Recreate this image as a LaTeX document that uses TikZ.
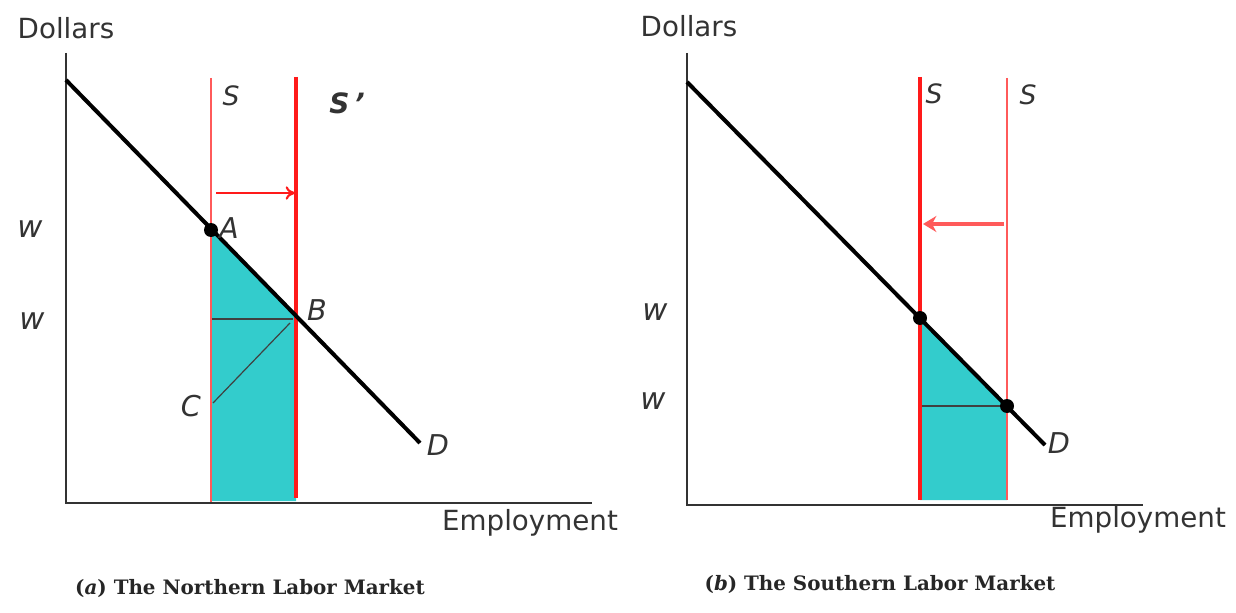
\documentclass[tikz,border=0pt]{standalone}
\usepackage{fontspec}
\setmainfont{DejaVu Serif}
\newfontfamily\labfont{DejaVu Sans}
\usetikzlibrary{arrows.meta}
\definecolor{teal1}{HTML}{33CCCC}
\definecolor{sred}{HTML}{FF1A1A}
\definecolor{lred}{HTML}{FF5A5A}
\definecolor{axisgray}{HTML}{333333}
\tikzset{
  axisline/.style={draw=axisgray, line width=1.9pt},
  demand/.style={draw=black, line width=3pt},
  thinS/.style={draw=lred, line width=1.4pt},
  thickS/.style={draw=sred, line width=3.1pt},
  guide/.style={draw=black!75, line width=0.9pt},
  area/.style={fill=teal1, draw=none},
  dotpt/.style={circle, fill=black, inner sep=0pt, minimum size=10.5pt},
  axlab/.style={font=\labfont\fontsize{20.8}{24}\selectfont, text=black!80, inner sep=0pt},
  ptlab/.style={font=\labfont\itshape\fontsize{21.5}{24}\selectfont, text=black!80, inner sep=0pt},
  slab/.style={font=\labfont\itshape\fontsize{20}{22}\selectfont, text=black!80, inner sep=0pt},
  wlab/.style={font=\labfont\itshape\fontsize{23}{26}\selectfont, text=black!80, inner sep=0pt},
  caption/.style={font=\bfseries\fontsize{14.9}{18}\selectfont, text=black!85, inner sep=0pt},
}
\begin{document}
\begin{tikzpicture}[x=0.75pt, y=-0.75pt]
\useasboundingbox (0,0) rectangle (1236,613);
% ================= left panel =================
\coordinate (Ltop) at (66,53);
\coordinate (Lorig) at (66,503);
\coordinate (Lxend) at (592,503);
\coordinate (LDs) at (66,80);
\coordinate (LDe) at (420,443);
\coordinate (LA) at (211,230);
\coordinate (LB) at (296,318);
\coordinate (LSt) at (211,78);
\coordinate (LSb) at (211,503);
\coordinate (LS2t) at (296,77);
\coordinate (LS2b) at (296,498);
\coordinate (LAb) at (211,501);
\coordinate (LBb) at (296,501);
\coordinate (LH1) at (211,319);
\coordinate (LH2) at (293,319);
\coordinate (LC) at (213,403);
\coordinate (LCe) at (290,323);
\coordinate (LArs) at (216,193);
\coordinate (LAre) at (295,193);
\path[area] (LA) -- (LB) -- (LBb) -- (LAb) -- cycle;
\draw[guide] (LH1) -- (LH2);
\draw[guide] (LC) -- (LCe);
\draw[thinS] (LSt) -- (LSb);
\draw[thickS] (LS2t) -- (LS2b);
\draw[axisline] (Ltop) -- (Lorig) -- (Lxend);
\draw[demand] (LDs) -- (LDe);
\draw[draw=sred, line width=1.6pt, -{To[length=7pt,width=10pt]}] (LArs) -- (LAre);
\node[dotpt] (dA) at (LA) {};
\node[axlab] (ldol) at (66,28) {Dollars};
\node[axlab] (lemp) at (530,523) {Employment};
\node[slab] (lS) at (231,96) {S};
\node[font=\labfont\bfseries\itshape\fontsize{21}{24}\selectfont, text=black!80, inner sep=0pt] (lS2) at (347,103) {S\,’};
\node[ptlab] (lAl) at (229,228) {A};
\node[ptlab] (lBl) at (317,310) {B};
\node[ptlab] (lCl) at (191,406) {C};
\node[ptlab] (lDl) at (438,445) {D};
\node[wlab] (lw1) at (30,229) {w};
\node[wlab] (lw2) at (32,321) {w};
\node[caption] (capa) at (250,588) {(\textit{a}) The Northern Labor Market};
% ================= right panel =================
\coordinate (Rtop) at (687,53);
\coordinate (Rorig) at (687,505);
\coordinate (Rxend) at (1143,505);
\coordinate (RDs) at (687,82);
\coordinate (RDe) at (1045,445);
\coordinate (RP1) at (920,318);
\coordinate (RP2) at (1007,406);
\coordinate (RSt) at (920,77);
\coordinate (RSb) at (920,500);
\coordinate (RS2t) at (1007,78);
\coordinate (RS2b) at (1007,500);
\coordinate (RH1) at (918,406);
\coordinate (RArs) at (1004,224);
\coordinate (RAre) at (923,224);
\path[area] (RP1) -- (RP2) -- (RS2b) -- (RSb) -- cycle;
\draw[guide] (RH1) -- (RP2);
\draw[thickS] (RSt) -- (RSb);
\draw[thinS] (RS2t) -- (RS2b);
\draw[axisline] (Rtop) -- (Rorig) -- (Rxend);
\draw[demand] (RDs) -- (RDe);
\draw[draw=lred, line width=2.8pt, -{Stealth[length=10pt,width=12pt]}] (RArs) -- (RAre);
\node[dotpt] (dR1) at (RP1) {};
\node[dotpt] (dR2) at (RP2) {};
\node[axlab] (rdol) at (689,26) {Dollars};
\node[axlab] (remp) at (1138,520) {Employment};
\node[slab] (rS1) at (934,94) {S};
\node[slab] (rS2) at (1028,95) {S};
\node[ptlab] (rDl) at (1059,443) {D};
\node[wlab] (rw1) at (655,312) {w};
\node[wlab] (rw2) at (653,401) {w};
\node[caption] (capb) at (880,584) {(\textit{b}) The Southern Labor Market};
\end{tikzpicture}
\end{document}
